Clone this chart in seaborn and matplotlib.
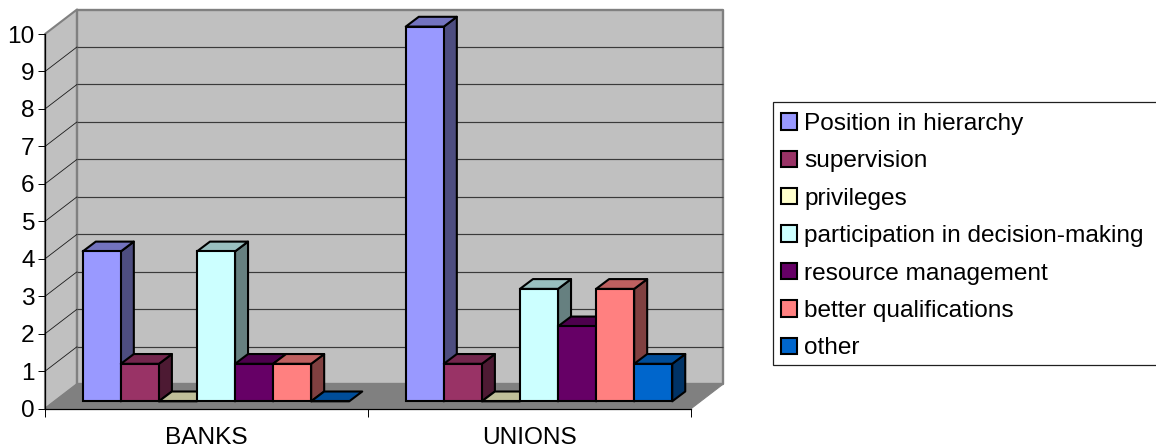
import matplotlib
matplotlib.use("Agg")
import matplotlib.pyplot as plt
import numpy as np
import pandas as pd
import seaborn as sns
from matplotlib.colors import to_rgb
from matplotlib.patches import Polygon, Rectangle
from matplotlib.transforms import Affine2D, IdentityTransform

groups = ["BANKS", "UNIONS"]
reasons = [
    "Position in hierarchy",
    "supervision",
    "privileges",
    "participation in decision-making",
    "resource management",
    "better qualifications",
    "other",
]
banks = [4, 1, 0, 4, 1, 1, 0]
unions = [10, 1, 0, 3, 2, 3, 1]
colors = ["#9999FF", "#993366", "#FFFFCC", "#CCFFFF", "#660066", "#FF8080", "#0066CC"]
value_ticks = list(range(0, 11))

sns.set_style("white")
plt.rcParams["font.family"] = ["Liberation Sans", "DejaVu Sans"]
plt.rcParams["text.color"] = "black"
plt.rcParams["xtick.labelcolor"] = "black"
plt.rcParams["ytick.labelcolor"] = "black"

W, H = 1156, 448
fig = plt.figure(figsize=(W / 100, H / 100), dpi=100, facecolor="white")

# The axes frame is the front plane of the box; walls and bars sit behind it.
LEFT, BASE, PW, PH = 45, 408.7, 646, 374.7
ax = fig.add_axes([LEFT / W, (H - BASE) / H, PW / W, PH / H])
ax.set_facecolor("none")

BAR_LW = 1.5

df = pd.DataFrame({
    "group": np.repeat(groups, len(reasons)),
    "reason": reasons * 2,
    "count": banks + unions,
})
sns.barplot(data=df, x="group", y="count", hue="reason", hue_order=reasons,
            palette=colors, width=0.825, gap=0, saturation=1,
            edgecolor="black", linewidth=BAR_LW, ax=ax, legend=True)
handles, labels = ax.get_legend_handles_labels()
ax.get_legend().remove()

ax.set_xlim(-0.5, 1.5)
ax.set_ylim(0, 10)
x0, x1 = ax.get_xlim()
y0, y1 = ax.get_ylim()
per_px_x = (x1 - x0) / PW
per_px_y = (y1 - y0) / PH

# Depth vectors in data units: whole box, bar front inset, single bar.
wall_dx, wall_dy = 32 * per_px_x, 24.5 * per_px_y
inset_dx, inset_dy = 9.5 * per_px_x, 7.4 * per_px_y
bar_dx, bar_dy = 13 * per_px_x, 9.8 * per_px_y

WALL = "#C0C0C0"
FLOOR = "#808080"
EDGE = "#808080"


def face(points, color, edge, lw, z):
    ax.add_patch(Polygon(points, closed=True, facecolor=color, edgecolor=edge,
                         linewidth=lw, zorder=z, clip_on=False, joinstyle="round"))


face([(x0, y0), (x0 + wall_dx, y0 + wall_dy), (x0 + wall_dx, y1 + wall_dy), (x0, y1)],
     WALL, EDGE, 1.5, 0.5)
face([(x0 + wall_dx, y0 + wall_dy), (x1 + wall_dx, y0 + wall_dy),
      (x1 + wall_dx, y1 + wall_dy), (x0 + wall_dx, y1 + wall_dy)],
     WALL, EDGE, 1.7, 0.6)
face([(x0, y0), (x1, y0), (x1 + wall_dx, y0 + wall_dy), (x0 + wall_dx, y0 + wall_dy)],
     FLOOR, FLOOR, 0.8, 0.7)

# Value grid runs along the back wall and down the side wall to the axis.
for v in value_ticks[1:-1]:
    ax.plot([x0 + wall_dx, x1 + wall_dx], [v + wall_dy] * 2, color="#3A3A3A",
            lw=0.85, zorder=0.8, clip_on=False, solid_capstyle="butt")
    ax.plot([x0, x0 + wall_dx], [v, v + wall_dy], color="#1A1A1A",
            lw=0.6, zorder=0.8, clip_on=False)


def shade(color, k):
    return tuple(c * k for c in to_rgb(color))


# Extrude every bar: side and top first, then its front on top of them.
shift = Affine2D().translate(inset_dx, inset_dy) + ax.transData
for i, (container, color) in enumerate(zip(ax.containers, colors)):
    for bar in container:
        left, width, top = bar.get_x(), bar.get_width(), bar.get_height()
        xl, xr = left + inset_dx, left + width + inset_dx
        yb, yt = inset_dy, top + inset_dy
        z = 3 + i
        if top > 0:
            face([(xr, yb), (xr + bar_dx, yb + bar_dy), (xr + bar_dx, yt + bar_dy), (xr, yt)],
                 shade(color, 0.5), "black", BAR_LW, z)
        face([(xl, yt), (xr, yt), (xr + bar_dx, yt + bar_dy), (xl + bar_dx, yt + bar_dy)],
             shade(color, 0.75), "black", BAR_LW, z)
        bar.set_transform(shift)
        bar.set_clip_on(False)
        bar.set_zorder(z + 0.5)

sns.despine(ax=ax, top=True, right=True)
for side in ("left", "bottom"):
    ax.spines[side].set_color("black")
    ax.spines[side].set_linewidth(0.9)
    ax.spines[side].set_zorder(2)

ax.set_xlabel("")
ax.set_ylabel("")
ax.set_yticks(value_ticks)
ax.tick_params(axis="y", direction="out", length=5, width=0.7, color="black",
               pad=2.5, labelsize=17.6, left=True)
ax.set_xticks([0, 1], labels=groups)
ax.set_xticks([x0, 0.5, x1], minor=True)
ax.tick_params(axis="x", which="major", length=0, pad=13, labelsize=17.6)
ax.tick_params(axis="x", which="minor", direction="out", length=5.5, width=0.7,
               color="black", bottom=True)

# Legend box runs off the right side of the canvas.
box = Rectangle((773, H - 364.5), 420, 262.5, transform=IdentityTransform(),
                facecolor="white", edgecolor="#202020", linewidth=0.9)
fig.add_artist(box)

leg = fig.legend(
    handles, labels, loc="upper left",
    bbox_to_anchor=(781 / W, (H - 113) / H), bbox_transform=fig.transFigure,
    frameon=False, fontsize=17.6, borderpad=0, borderaxespad=0,
    handlelength=0.65, handleheight=0.65, handletextpad=0.31, labelspacing=0.63,
)
for patch in leg.get_patches():
    patch.set_edgecolor("black")
    patch.set_linewidth(BAR_LW)

fig.savefig("out.png", dpi=100, facecolor="white")
